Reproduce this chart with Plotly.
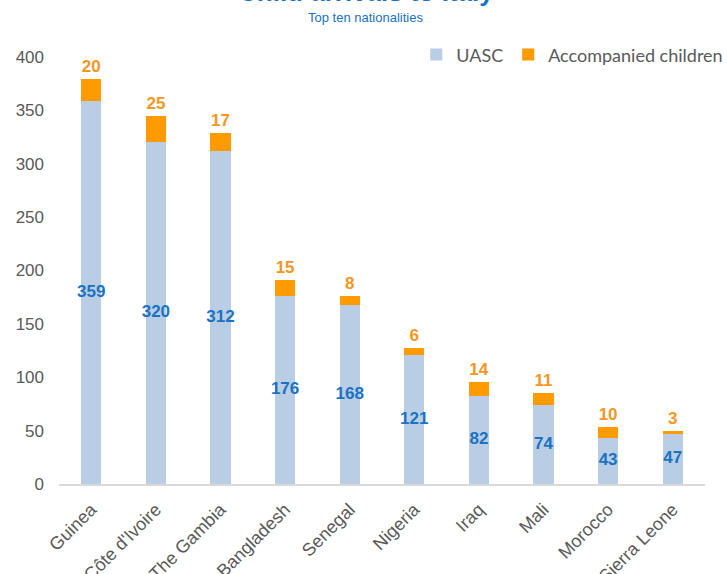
import plotly.graph_objects as go

countries = ["Guinea", "Côte d'Ivoire", "The Gambia", "Bangladesh", "Senegal",
             "Nigeria", "Iraq", "Mali", "Morocco", "Sierra Leone"]
uasc = [359, 320, 312, 176, 168, 121, 82, 74, 43, 47]
accompanied = [20, 25, 17, 15, 8, 6, 14, 11, 10, 3]
y_ticks = [0, 50, 100, 150, 200, 250, 300, 350, 400]

C_UASC = "#B9CDE5"
C_ACC = "#FF9A00"
C_BLUE = "#1A72C2"
C_ORANGE = "#F7961D"
GREY = "#595959"

fig = go.Figure()
fig.add_trace(go.Bar(x=countries, y=uasc, name="UASC", marker_color=C_UASC,
                     marker_line_width=0))
fig.add_trace(go.Bar(x=countries, y=accompanied, name="Accompanied children",
                     marker_color=C_ACC, marker_line_width=0,
                     text=[str(v) for v in accompanied], textposition="outside",
                     constraintext="none", cliponaxis=False,
                     textfont=dict(color=C_ORANGE, size=17, family="Liberation Sans", weight="bold")))
fig.add_trace(go.Scatter(x=countries, y=[v / 2 for v in uasc], mode="text",
                         text=[str(v) for v in uasc], showlegend=False, hoverinfo="skip",
                         textfont=dict(color=C_BLUE, size=17, family="Liberation Sans", weight="bold"),
                         cliponaxis=False))

fig.add_annotation(text="<b>Child arrivals to Italy</b>", xref="paper", yref="paper",
                   x=0.475, y=1, yanchor="bottom", yshift=48, showarrow=False,
                   font=dict(size=26, color=C_BLUE, family="Liberation Sans"))
fig.add_annotation(text="Top ten nationalities", xref="paper", yref="paper",
                   x=0.475, y=1, yanchor="bottom", yshift=30, showarrow=False,
                   font=dict(size=13, color=C_BLUE, family="Liberation Sans"))

fig.update_layout(
    width=727, height=574,
    margin=dict(l=59, r=22, t=57, b=90, autoexpand=False),
    barmode="stack", bargap=0.69,
    plot_bgcolor="white", paper_bgcolor="white",
    showlegend=True,
    legend=dict(orientation="h", x=1.036, xanchor="right", y=1.005, yanchor="middle",
                font=dict(size=18, color=GREY, family="Lato"),
                itemwidth=30, traceorder="normal", bgcolor="rgba(0,0,0,0)"),
    xaxis=dict(tickangle=-45, tickfont=dict(size=18, color=GREY, family="Liberation Sans"),
               showline=True, linecolor="#D9D9D9", linewidth=2, ticks="", automargin=False,
               ticklabelstandoff=6),
    yaxis=dict(range=[0, 400], tickvals=y_ticks, showgrid=False, zeroline=False,
               tickfont=dict(size=17, color=GREY, family="Liberation Sans"),
               ticks="", ticklabelstandoff=14, automargin=False),
)

fig.write_html("out.html", config={"displayModeBar": False},
               post_script="document.body.style.margin='0px';")
